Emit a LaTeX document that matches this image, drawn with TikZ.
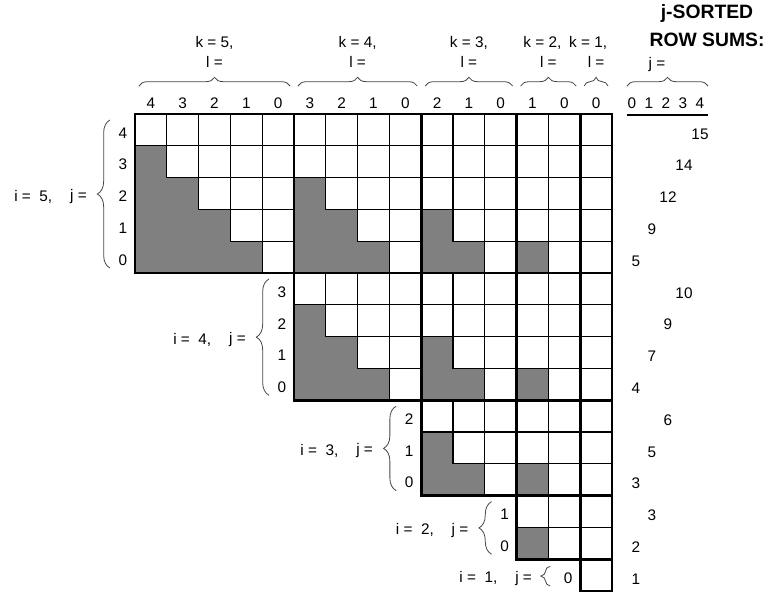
\documentclass[tikz,border=0pt]{standalone}
\usepackage{fontspec}
\setmainfont{Liberation Sans}
\usetikzlibrary{decorations.pathreplacing}
\definecolor{cellgray}{RGB}{128,128,128}
\definecolor{bracecol}{RGB}{70,70,70}
\begin{document}
\begin{tikzpicture}[x=0.75pt,y=-0.75pt,
  lbl/.style={font=\fontsize{11.5}{13}\selectfont, inner sep=0pt},
  ttl/.style={font=\fontsize{14.5}{16}\selectfont\bfseries, inner sep=0pt},
  gridline/.style={line width=0.8pt, black},
  blockline/.style={line width=2.2pt, black, line cap=rect},
  grayfill/.style={fill=cellgray},
  bracetop/.style={decorate, decoration={brace, amplitude=6.5pt}, line width=0.6pt, bracecol},
  braceleft/.style={decorate, decoration={brace, amplitude=9.5pt}, line width=0.6pt, bracecol},
  sumline/.style={line width=2.2pt, black}]
\useasboundingbox (0,0) rectangle (769,594);
\def\X{135}\def\Y{114}\def\c{31.8}
% gray cells
\foreach \i in {1,...,5} {
  \pgfmathtruncatemacro\ri{15-\i*(\i+1)/2}
  \pgfmathtruncatemacro\jm{\i-1}
  \foreach \k in {1,...,\i} {
    \pgfmathtruncatemacro\sk{15-\k*(\k+1)/2}
    \pgfmathtruncatemacro\lm{\k-1}
    \foreach \j in {0,...,\jm} {
      \foreach \l in {0,...,\lm} {
        \pgfmathsetmacro\cx{\X+(\sk+\k-1-\l)*\c}
        \pgfmathsetmacro\cy{\Y+(\ri+\i-1-\j)*\c}
        \ifnum\l>\j \fill[grayfill] (\cx,\cy) rectangle ++(\c,\c); \fi
      }
    }
  }
}
% white cells
\foreach \i in {1,...,5} {
  \pgfmathtruncatemacro\ri{15-\i*(\i+1)/2}
  \pgfmathtruncatemacro\jm{\i-1}
  \foreach \k in {1,...,\i} {
    \pgfmathtruncatemacro\sk{15-\k*(\k+1)/2}
    \pgfmathtruncatemacro\lm{\k-1}
    \foreach \j in {0,...,\jm} {
      \foreach \l in {0,...,\lm} {
        \pgfmathsetmacro\cx{\X+(\sk+\k-1-\l)*\c}
        \pgfmathsetmacro\cy{\Y+(\ri+\i-1-\j)*\c}
        \ifnum\l>\j \else \draw[gridline] (\cx,\cy) rectangle ++(\c,\c); \fi
      }
    }
  }
}
% block borders
\foreach \i in {1,...,5} {
  \pgfmathtruncatemacro\ri{15-\i*(\i+1)/2}
  \foreach \k in {1,...,\i} {
    \pgfmathtruncatemacro\sk{15-\k*(\k+1)/2}
    \draw[blockline] (\X+\sk*\c,\Y+\ri*\c) rectangle ++(\k*\c,\i*\c);
  }
}
% column labels, top braces, k/l labels
\foreach \k in {1,...,5} {
  \pgfmathtruncatemacro\sk{15-\k*(\k+1)/2}
  \pgfmathtruncatemacro\lm{\k-1}
  \foreach \l in {0,...,\lm} {
    \node[lbl] (col-\k-\l) at ({\X+(\sk+\k-1-\l+0.5)*\c},103) {\l};
  }
  \coordinate (tbl-\k) at ({\X+\sk*\c+4},86);
  \coordinate (tbr-\k) at ({\X+(\sk+\k)*\c-4},86);
  \draw[bracetop] (tbl-\k) -- (tbr-\k);
  \node[lbl] (leq-\k) at ({\X+(\sk+\k/2)*\c},62) {l =};
}
\node[lbl] (keq-5) at ({\X+2.5*\c},43) {k = 5,};
\node[lbl] (keq-4) at ({\X+7*\c},43) {k = 4,};
\node[lbl] (keq-3) at ({\X+10.5*\c},43) {k = 3,};
\node[lbl] (keq-2) at ({\X+13*\c-6},43) {k = 2,};
\node[lbl] (keq-1) at ({\X+14.5*\c-8},43) {k = 1,};
% left labels and braces
\foreach \i in {1,...,5} {
  \pgfmathtruncatemacro\ri{15-\i*(\i+1)/2}
  \pgfmathtruncatemacro\jm{\i-1}
  \pgfmathsetmacro\gl{\X+\ri*\c}
  \foreach \j in {0,...,\jm} {
    \node[lbl] (rowlab-\i-\j) at ({\gl-12},{\Y+(\ri+\i-1-\j+0.5)*\c+3}) {\j};
  }
  \coordinate (lbb-\i) at ({\gl-25},{\Y+(\ri+\i)*\c-5});
  \coordinate (lbt-\i) at ({\gl-25},{\Y+\ri*\c+6});
  \ifnum\i=1
    \draw[decorate, decoration={brace, amplitude=7pt}, line width=0.6pt, bracecol] ({\gl-30},{\Y+(\ri+\i)*\c-5}) -- ({\gl-30},{\Y+\ri*\c+7});
  \else
    \draw[braceleft] (lbb-\i) -- (lbt-\i);
  \fi
  \node[lbl, anchor=east] (jeq-\i) at ({\gl-48},{\Y+(\ri+\i/2)*\c+3}) {j =};
  \node[lbl, anchor=west] (ieq-\i) at ({\gl-121},{\Y+(\ri+\i/2)*\c+3}) {i =\ \ \i,};
}
% row sums header
\node[ttl] (title1) at (707,13) {j-SORTED};
\node[ttl] (title2) at (707,40) {ROW SUMS:};
\node[lbl] (jeqs) at (657,65) {j =};
\coordinate (sbl) at (627,86);
\coordinate (sbr) at (708,86);
\draw[bracetop] (sbl) -- (sbr);
\foreach \j in {0,...,4} {
  \node[lbl] (sumcol-\j) at ({632+17*\j},103) {\j};
}
\coordinate (sl1) at (627,115);
\coordinate (sl2) at (708,115);
\draw[sumline] (sl1) -- (sl2);
% row sums
\foreach \i/\j/\s in {5/4/15,5/3/14,5/2/12,5/1/9,5/0/5,4/3/10,4/2/9,4/1/7,4/0/4,3/2/6,3/1/5,3/0/3,2/1/3,2/0/2,1/0/1} {
  \pgfmathtruncatemacro\ri{15-\i*(\i+1)/2}
  \node[lbl] (sum-\i-\j) at ({636+16*\j},{\Y+(\ri+\i-1-\j+0.5)*\c+4}) {\s};
}
\end{tikzpicture}
\end{document}
